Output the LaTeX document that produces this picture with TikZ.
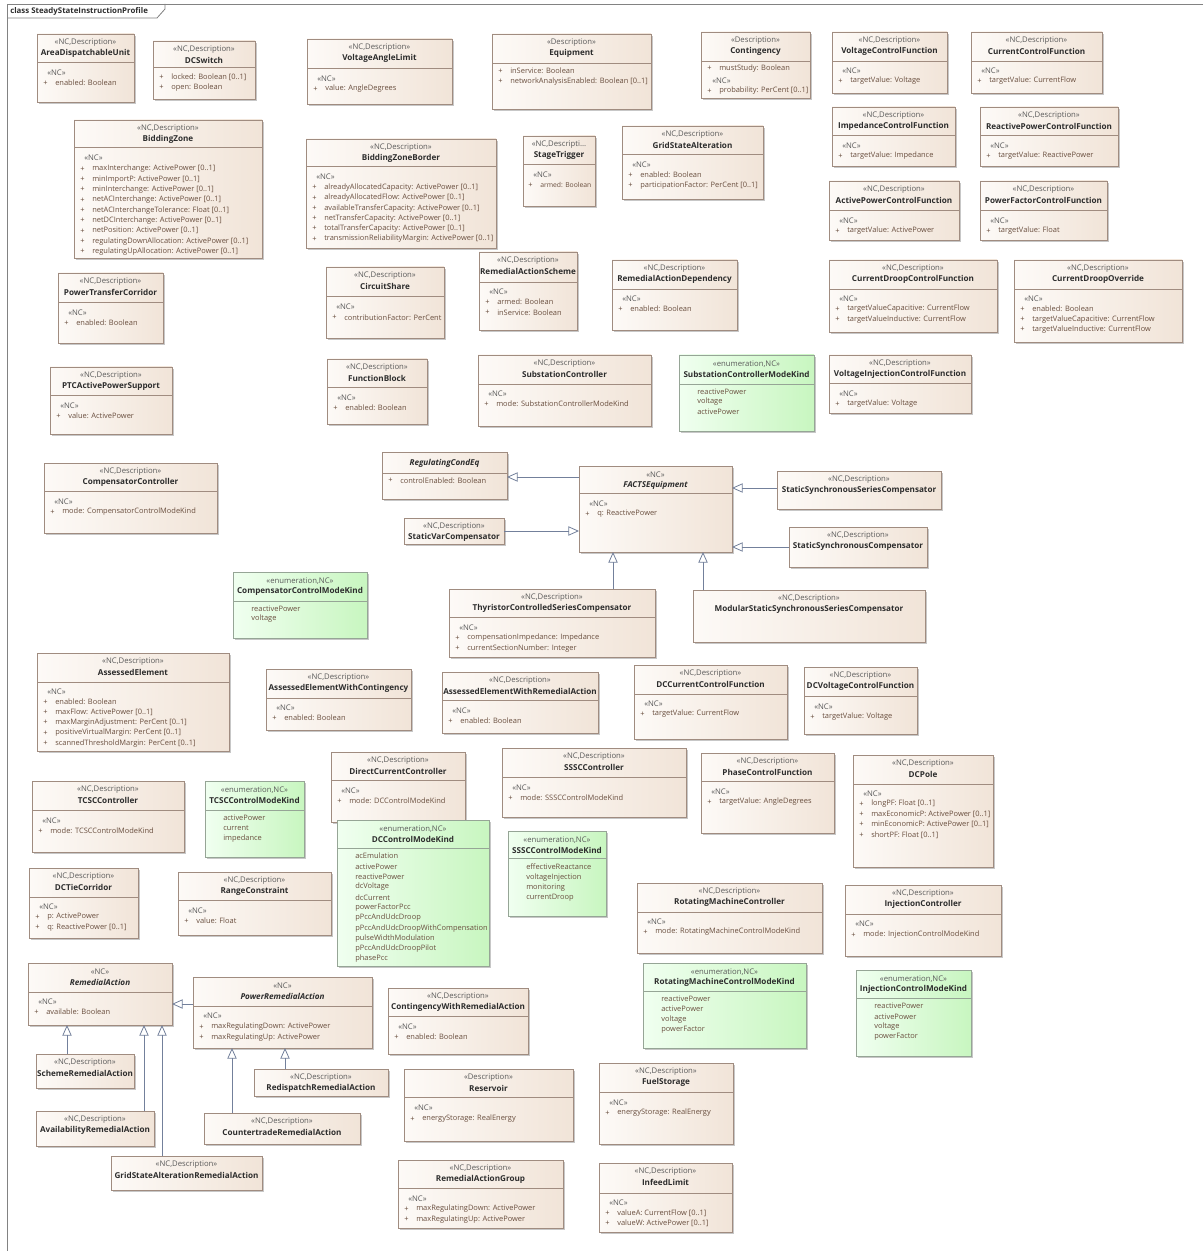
\documentclass[tikz,border=0pt]{standalone}
\usepackage{fontspec}
\setmainfont{Open Sans}
\usetikzlibrary{fit,shadows,arrows.meta}
\definecolor{boxL}{RGB}{253,250,247}
\definecolor{boxR}{RGB}{241,228,216}
\definecolor{boxD}{RGB}{160,140,128}
\definecolor{enL}{RGB}{240,255,240}
\definecolor{enR}{RGB}{200,246,192}
\definecolor{enD}{RGB}{150,165,150}
\definecolor{txtS}{RGB}{90,90,90}
\definecolor{txtN}{RGB}{45,45,45}
\definecolor{txtA}{RGB}{105,78,62}
\definecolor{genC}{RGB}{115,128,155}
\definecolor{frameC}{RGB}{130,130,130}
\tikzset{
  box/.style={draw=boxD, line width=0.5pt, left color=boxL, right color=boxR, inner sep=0pt, outer sep=0pt,
    drop shadow={shadow xshift=1.2pt, shadow yshift=-1.2pt, fill=black, opacity=0.22}},
  enumbox/.style={draw=enD, line width=0.5pt, left color=enL, right color=enR, inner sep=0pt, outer sep=0pt,
    drop shadow={shadow xshift=1.2pt, shadow yshift=-1.2pt, fill=black, opacity=0.22}},
  ster/.style={font=\fontsize{5.8}{6}\selectfont, text=txtS, inner sep=0pt},
  cname/.style={font=\bfseries\fontsize{6.1}{7}\selectfont, text=txtN, inner sep=0pt},
  attr/.style={font=\fontsize{5.6}{7}\selectfont, text=txtA, inner sep=0pt},
  sepc/.style={draw=boxD, line width=0.5pt},
  gen/.style={draw=genC, line width=0.6pt, -{Triangle[open, length=8pt, width=7pt]}},
}
\newcommand\cls[8]{%
  \node[#8, fit={(#2,#3) (#4,#5)}] (#1) {};
  \node[ster] (#1-s) at ({(#2+#4)/2},#3+9) {#6};
  \node[cname] (#1-n) at ({(#2+#4)/2},#3+19) {#7};}
\newcommand\sepl[2]{\draw[sepc] (#1.west |- 0,#2) -- (#1.east |- 0,#2);}
\newcommand\ncl[3]{\node[ster,anchor=west] (#1-nc) at (#2+10,#3) {«NC»};}
\newcommand\attrs[4]{\foreach \t [count=\i] in {#4} {%
  \node[attr,anchor=west] (#1-p\i) at (#2+6,{#3+(\i-1)*10.3}) {+};
  \node[attr,anchor=west] (#1-a\i) at (#2+18,{#3+(\i-1)*10.3}) {\t};}}
\newcommand\items[4]{\foreach \t [count=\i] in {#4} {%
  \node[attr,anchor=west] (#1-e\i) at (#2+18,{#3+(\i-1)*10.3}) {\t};}}
\begin{document}
\begin{tikzpicture}[x=0.75pt,y=-0.75pt]
\useasboundingbox (0,0) rectangle (1203,1251);
\fill[white] (0,0) rectangle (1203,1251);
% frame
\draw[frameC, line width=0.6pt] (1203,4) -- (7,4) -- (7,1251);
\draw[frameC, line width=0.6pt] (7,18) -- (157,18) -- (165,9) -- (165,4);
\node[cname, anchor=west, font=\bfseries\fontsize{5.9}{7}\selectfont] (title) at (10,11.5) {class SteadyStateInstructionProfile};

% row 1
\cls{adu}{37}{34}{134}{102}{«NC,Description»}{AreaDispatchableUnit}{box}
\sepl{adu}{62}\ncl{adu}{37}{72.5}\attrs{adu}{37}{83}{enabled: Boolean}

\cls{dcs}{153}{41}{255}{99}{«NC,Description»}{DCSwitch}{box}
\sepl{dcs}{67}\attrs{dcs}{153}{77}{locked: Boolean [0..1],open: Boolean}

\cls{val}{307}{39}{452}{104}{«NC,Description»}{VoltageAngleLimit}{box}
\sepl{val}{68}\ncl{val}{307}{79}\attrs{val}{307}{89}{value: AngleDegrees}

\cls{eq}{492}{34}{651}{109}{«Description»}{Equipment}{box}
\sepl{eq}{63}\attrs{eq}{492}{71}{inService: Boolean,networkAnalysisEnabled: Boolean [0..1]}

\cls{cont}{701}{32}{810}{98}{«Description»}{Contingency}{box}
\sepl{cont}{61}\attrs{cont}{701}{68.5}{mustStudy: Boolean}
\node[ster,anchor=west] (cont-nc) at (712,80.5) {«NC»};
\attrs{contb}{701}{91}{probability: PerCent [0..1]}

\cls{vcf}{832}{32}{947}{93}{«NC,Description»}{VoltageControlFunction}{box}
\sepl{vcf}{61}\ncl{vcf}{832}{71}\attrs{vcf}{832}{81}{targetValue: Voltage}

\cls{ccf}{971}{32}{1102}{93}{«NC,Description»}{CurrentControlFunction}{box}
\sepl{ccf}{61}\ncl{ccf}{971}{71}\attrs{ccf}{971}{81}{targetValue: CurrentFlow}

% row 2
\cls{bz}{74}{120}{262}{258}{«NC,Description»}{BiddingZone}{box}
\sepl{bz}{147}\ncl{bz}{74}{157.5}
\attrs{bz}{74}{169}{maxInterchange: ActivePower [0..1],minImportP: ActivePower [0..1],minInterchange: ActivePower [0..1],netACInterchange: ActivePower [0..1],netACInterchangeTolerance: Float [0..1],netDCInterchange: ActivePower [0..1],netPosition: ActivePower [0..1],regulatingDownAllocation: ActivePower [0..1],regulatingUpAllocation: ActivePower [0..1]}

\cls{bzb}{306}{139}{496}{248}{«NC,Description»}{BiddingZoneBorder}{box}
\sepl{bzb}{166}\ncl{bzb}{306}{176.5}
\attrs{bzb}{306}{187.5}{alreadyAllocatedCapacity: ActivePower [0..1],alreadyAllocatedFlow: ActivePower [0..1],availableTransferCapacity: ActivePower [0..1],netTransferCapacity: ActivePower [0..1],totalTransferCapacity: ActivePower [0..1],transmissionReliabilityMargin: ActivePower [0..1]}

\cls{st}{523}{136}{595}{206}{«NC,Descripti...}{StageTrigger}{box}
\sepl{st}{164}\ncl{st}{523}{174.5}
\node[attr,anchor=west] (st-p1) at (528,185) {+};
\node[attr,anchor=west,font=\fontsize{5.1}{7}\selectfont] (st-a1) at (540,185) {armed: Boolean};

\cls{gsa}{622}{126}{763}{199}{«NC,Description»}{GridStateAlteration}{box}
\sepl{gsa}{154}\ncl{gsa}{622}{164.5}\attrs{gsa}{622}{175}{enabled: Boolean,participationFactor: PerCent [0..1]}

\cls{icf}{832}{107}{955}{166}{«NC,Description»}{ImpedanceControlFunction}{box}
\sepl{icf}{135}\ncl{icf}{832}{146}\attrs{icf}{832}{156}{targetValue: Impedance}

\cls{rpcf}{980}{107}{1118}{166}{«NC,Description»}{ReactivePowerControlFunction}{box}
\sepl{rpcf}{135}\ncl{rpcf}{980}{146}\attrs{rpcf}{980}{156}{targetValue: ReactivePower}

\cls{apcf}{829}{181}{959}{240}{«NC,Description»}{ActivePowerControlFunction}{box}
\sepl{apcf}{210}\ncl{apcf}{829}{221}\attrs{apcf}{829}{231}{targetValue: ActivePower}

\cls{pfcf}{980}{181}{1107}{240}{«NC,Description»}{PowerFactorControlFunction}{box}
\sepl{pfcf}{210}\ncl{pfcf}{980}{221}\attrs{pfcf}{980}{231}{targetValue: Float}

% row 3
\cls{ptc}{58}{273}{163}{343}{«NC,Description»}{PowerTransferCorridor}{box}
\sepl{ptc}{302}\ncl{ptc}{58}{313}\attrs{ptc}{58}{323}{enabled: Boolean}

\cls{cs}{326}{267}{444}{338}{«NC,Description»}{CircuitShare}{box}
\sepl{cs}{296}\ncl{cs}{326}{307}\attrs{cs}{326}{317.5}{contributionFactor: PerCent}

\cls{ras}{479}{252}{577}{330}{«NC,Description»}{RemedialActionScheme}{box}
\sepl{ras}{282}\ncl{ras}{479}{292}\attrs{ras}{479}{302}{armed: Boolean,inService: Boolean}

\cls{rad}{612}{260}{737}{330}{«NC,Description»}{RemedialActionDependency}{box}
\sepl{rad}{289}\ncl{rad}{612}{299}\attrs{rad}{612}{309}{enabled: Boolean}

\cls{cdcf}{829}{260}{997}{332}{«NC,Description»}{CurrentDroopControlFunction}{box}
\sepl{cdcf}{289}\ncl{cdcf}{829}{299}\attrs{cdcf}{829}{309}{targetValueCapacitive: CurrentFlow,targetValueInductive: CurrentFlow}

\cls{cdo}{1014}{260}{1182}{342}{«NC,Description»}{CurrentDroopOverride}{box}
\sepl{cdo}{289}\ncl{cdo}{1014}{299}\attrs{cdo}{1014}{309}{enabled: Boolean,targetValueCapacitive: CurrentFlow,targetValueInductive: CurrentFlow}

% row 4
\cls{ptcs}{50}{367}{172}{434}{«NC,Description»}{PTCActivePowerSupport}{box}
\sepl{ptcs}{395}\ncl{ptcs}{50}{406}\attrs{ptcs}{50}{416}{value: ActivePower}

\cls{fb}{327}{359}{427}{424}{«NC,Description»}{FunctionBlock}{box}
\sepl{fb}{387}\ncl{fb}{327}{398}\attrs{fb}{327}{408}{enabled: Boolean}

\cls{sc}{478}{355}{651}{426}{«NC,Description»}{SubstationController}{box}
\sepl{sc}{384}\ncl{sc}{478}{394}\attrs{sc}{478}{404}{mode: SubstationControllerModeKind}

\cls{scmk}{679}{355}{814}{431}{«enumeration,NC»}{SubstationControllerModeKind}{enumbox}
\draw[sepc,draw=enD] (scmk.west |- 0,384) -- (scmk.east |- 0,384);
\items{scmk}{679}{391.5}{reactivePower,voltage,activePower}

\cls{vicf}{829}{355}{971}{413}{«NC,Description»}{VoltageInjectionControlFunction}{box}
\sepl{vicf}{383}\ncl{vicf}{829}{394}\attrs{vicf}{829}{404}{targetValue: Voltage}

% FACTS area
\cls{cc}{44}{463}{217}{533}{«NC,Description»}{CompensatorController}{box}
\sepl{cc}{491}\ncl{cc}{44}{502}\attrs{cc}{44}{512}{mode: CompensatorControlModeKind}

\node[box, fit={(382,452) (507,499)}] (rce) {};
\node[cname] (rce-n) at (444.5,463) {\itshape RegulatingCondEq};
\sepl{rce}{473}\attrs{rce}{382}{480.5}{controlEnabled: Boolean}

\cls{facts}{579}{466}{732}{552}{«NC»}{\itshape FACTSEquipment}{box}
\sepl{facts}{493}\ncl{facts}{579}{504}\attrs{facts}{579}{514}{q: ReactivePower}

\cls{svc}{404}{518}{504}{544}{«NC,Description»}{StaticVarCompensator}{box}
\cls{sssc}{777}{471}{941}{509}{«NC,Description»}{StaticSynchronousSeriesCompensator}{box}
\cls{stc}{789}{527}{927}{567}{«NC,Description»}{StaticSynchronousCompensator}{box}

\cls{ccmk}{233}{572}{367}{638}{«enumeration,NC»}{CompensatorControlModeKind}{enumbox}
\draw[sepc,draw=enD] (ccmk.west |- 0,601) -- (ccmk.east |- 0,601);
\items{ccmk}{233}{608.5}{reactivePower,voltage}

\cls{tcsc}{449}{589}{655}{657}{«NC,Description»}{ThyristorControlledSeriesCompensator}{box}
\sepl{tcsc}{617}\ncl{tcsc}{449}{628}\attrs{tcsc}{449}{638}{compensationImpedance: Impedance,currentSectionNumber: Integer}

\cls{mssc}{693}{590}{925}{642}{«NC,Description»}{ModularStaticSynchronousSeriesCompensator}{box}

\draw[gen] (facts.west |- 0,477) -- (rce.east |- 0,477);
\draw[gen] (svc.east |- 0,531) -- (facts.west |- 0,531);
\draw[gen] (tcsc.north -| 613,0) -- (facts.south -| 613,0);
\draw[gen] (mssc.north -| 703,0) -- (facts.south -| 703,0);
\draw[gen] (sssc.west |- 0,488) -- (facts.east |- 0,488);
\draw[gen] (stc.west |- 0,547) -- (facts.east |- 0,547);

% assessed elements row
\cls{ae}{37}{653}{229}{751}{«NC,Description»}{AssessedElement}{box}
\sepl{ae}{682}\ncl{ae}{37}{692}\attrs{ae}{37}{702}{enabled: Boolean,maxFlow: ActivePower [0..1],maxMarginAdjustment: PerCent [0..1],positiveVirtualMargin: PerCent [0..1],scannedThresholdMargin: PerCent [0..1]}

\cls{aewc}{266}{669}{411}{730}{«NC,Description»}{AssessedElementWithContingency}{box}
\sepl{aewc}{698}\ncl{aewc}{266}{708}\attrs{aewc}{266}{718}{enabled: Boolean}

\cls{aewra}{442}{672}{598}{733}{«NC,Description»}{AssessedElementWithRemedialAction}{box}
\sepl{aewra}{700}\ncl{aewra}{442}{711}\attrs{aewra}{442}{721}{enabled: Boolean}

\cls{dcccf}{634}{665}{787}{739}{«NC,Description»}{DCCurrentControlFunction}{box}
\sepl{dcccf}{694}\ncl{dcccf}{634}{704}\attrs{dcccf}{634}{714}{targetValue: CurrentFlow}

\cls{dcvcf}{804}{667}{917}{734}{«NC,Description»}{DCVoltageControlFunction}{box}
\sepl{dcvcf}{696}\ncl{dcvcf}{804}{707}\attrs{dcvcf}{804}{717}{targetValue: Voltage}

% controllers
\cls{dcc}{331}{752}{465}{822}{«NC,Description»}{DirectCurrentController}{box}
\sepl{dcc}{780}\ncl{dcc}{331}{791}\attrs{dcc}{331}{801}{mode: DCControlModeKind}

\cls{ssscc}{502}{748}{686}{817}{«NC,Description»}{SSSCController}{box}
\sepl{ssscc}{777}\ncl{ssscc}{502}{788}\attrs{ssscc}{502}{798}{mode: SSSCControlModeKind}

\cls{pcf}{701}{753}{834}{833}{«NC,Description»}{PhaseControlFunction}{box}
\sepl{pcf}{781}\ncl{pcf}{701}{792}\attrs{pcf}{701}{802}{targetValue: AngleDegrees}

\cls{dcp}{853}{755}{993}{867}{«NC,Description»}{DCPole}{box}
\sepl{dcp}{784}\ncl{dcp}{853}{794}\attrs{dcp}{853}{804}{longPF: Float [0..1],maxEconomicP: ActivePower [0..1],minEconomicP: ActivePower [0..1],shortPF: Float [0..1]}

\cls{tcscc}{32}{781}{184}{852}{«NC,Description»}{TCSCController}{box}
\sepl{tcscc}{810}\ncl{tcscc}{32}{821}\attrs{tcscc}{32}{831}{mode: TCSCControlModeKind}

\cls{tcscmk}{205}{781}{304}{857}{«enumeration,NC»}{TCSCControlModeKind}{enumbox}
\draw[sepc,draw=enD] (tcscmk.west |- 0,810) -- (tcscmk.east |- 0,810);
\items{tcscmk}{205}{817.5}{activePower,current,impedance}

\cls{dccmk}{337}{820}{489}{966}{«enumeration,NC»}{DCControlModeKind}{enumbox}
\draw[sepc,draw=enD] (dccmk.west |- 0,848) -- (dccmk.east |- 0,848);
\items{dccmk}{337}{856}{acEmulation,activePower,reactivePower,dcVoltage,dcCurrent,powerFactorPcc,pPccAndUdcDroop,pPccAndUdcDroopWithCompensation,pulseWidthModulation,pPccAndUdcDroopPilot,phasePcc}

\cls{sssccmk}{508}{831}{606}{916}{«enumeration,NC»}{SSSCControlModeKind}{enumbox}
\draw[sepc,draw=enD] (sssccmk.west |- 0,858) -- (sssccmk.east |- 0,858);
\items{sssccmk}{508}{867}{effectiveReactance,voltageInjection,monitoring,currentDroop}

\cls{dctc}{29}{868}{138}{938}{«NC,Description»}{DCTieCorridor}{box}
\sepl{dctc}{897}\ncl{dctc}{29}{907}\attrs{dctc}{29}{917}{p: ActivePower,q: ReactivePower [0..1]}

\cls{rc}{178}{872}{331}{935}{«NC,Description»}{RangeConstraint}{box}
\sepl{rc}{900}\ncl{rc}{178}{911}\attrs{rc}{178}{921}{value: Float}

\cls{rmc}{637}{883}{822}{953}{«NC,Description»}{RotatingMachineController}{box}
\sepl{rmc}{912}\ncl{rmc}{637}{922}\attrs{rmc}{637}{932}{mode: RotatingMachineControlModeKind}

\cls{ic}{845}{885}{1001}{956}{«NC,Description»}{InjectionController}{box}
\sepl{ic}{914}\ncl{ic}{845}{924}\attrs{ic}{845}{935}{mode: InjectionControlModeKind}

% remedial actions
\cls{ra}{28}{963}{172}{1025}{«NC»}{\itshape RemedialAction}{box}
\sepl{ra}{992}\ncl{ra}{28}{1002}\attrs{ra}{28}{1012}{available: Boolean}

\cls{pra}{193}{977}{372}{1048}{«NC»}{\itshape PowerRemedialAction}{box}
\sepl{pra}{1006}\ncl{pra}{193}{1016}\attrs{pra}{193}{1027}{maxRegulatingDown: ActivePower,maxRegulatingUp: ActivePower}

\cls{cwra}{388}{988}{528}{1054}{«NC,Description»}{ContingencyWithRemedialAction}{box}
\sepl{cwra}{1016}\ncl{cwra}{388}{1027}\attrs{cwra}{388}{1037}{enabled: Boolean}

\cls{rmcmk}{643}{963}{806}{1048}{«enumeration,NC»}{RotatingMachineControlModeKind}{enumbox}
\draw[sepc,draw=enD] (rmcmk.west |- 0,991) -- (rmcmk.east |- 0,991);
\items{rmcmk}{643}{998.5}{reactivePower,activePower,voltage,powerFactor}

\cls{icmk}{856}{970}{971}{1056}{«enumeration,NC»}{InjectionControlModeKind}{enumbox}
\draw[sepc,draw=enD] (icmk.west |- 0,998) -- (icmk.east |- 0,998);
\items{icmk}{856}{1006}{reactivePower,activePower,voltage,powerFactor}

\cls{sra}{36}{1054}{134}{1088}{«NC,Description»}{SchemeRemedialAction}{box}
\cls{rra}{254}{1069}{388}{1096}{«NC,Description»}{RedispatchRemedialAction}{box}
\cls{avra}{36}{1111}{154}{1146}{«NC,Description»}{AvailabilityRemedialAction}{box}
\cls{ctra}{204}{1113}{360}{1144}{«NC,Description»}{CountertradeRemedialAction}{box}
\cls{gsara}{111}{1156}{262}{1190}{«NC,Description»}{GridStateAlterationRemedialAction}{box}

\cls{res}{404}{1069}{573}{1141}{«Description»}{Reservoir}{box}
\sepl{res}{1097}\ncl{res}{404}{1108}\attrs{res}{404}{1119}{energyStorage: RealEnergy}

\cls{fs}{599}{1063}{733}{1144}{«NC,Description»}{FuelStorage}{box}
\sepl{fs}{1092}\ncl{fs}{599}{1103}\attrs{fs}{599}{1113}{energyStorage: RealEnergy}

\cls{rag}{398}{1160}{563}{1228}{«NC,Description»}{RemedialActionGroup}{box}
\sepl{rag}{1188}\ncl{rag}{398}{1199}\attrs{rag}{398}{1209}{maxRegulatingDown: ActivePower,maxRegulatingUp: ActivePower}

\cls{il}{599}{1163}{732}{1232}{«NC,Description»}{InfeedLimit}{box}
\sepl{il}{1193}\ncl{il}{599}{1203}\attrs{il}{599}{1213}{valueA: CurrentFlow [0..1],valueW: ActivePower [0..1]}

\draw[gen] (pra.west |- 0,1004) -- (ra.east |- 0,1004);
\draw[gen] (sra.north -| 67,0) -- (ra.south -| 67,0);
\draw[gen] (avra.north -| 144,0) -- (ra.south -| 144,0);
\draw[gen] (gsara.north -| 162,0) -- (ra.south -| 162,0);
\draw[gen] (rra.north -| 285,0) -- (pra.south -| 285,0);
\draw[gen] (ctra.north -| 232,0) -- (pra.south -| 232,0);
\end{tikzpicture}
\end{document}
